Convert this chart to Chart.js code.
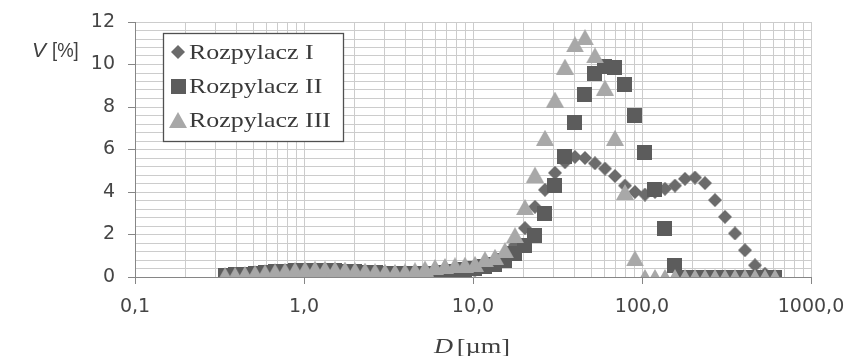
<!DOCTYPE html>
<html><head><meta charset="utf-8">
<script src="https://cdn.jsdelivr.net/npm/chart.js@4.4.1/dist/chart.umd.min.js"></script>
<style>html,body{margin:0;padding:0;background:#fff;} canvas{display:block;}</style>
</head><body>
<canvas id="c" width="845" height="356"></canvas>
<script>
// ---- data ----
const diameters = [0.341, 0.391, 0.447, 0.513, 0.588, 0.674, 0.772, 0.885, 1.014, 1.161,
  1.331, 1.525, 1.748, 2.003, 2.296, 2.631, 3.015, 3.455, 3.959, 4.536,
  5.199, 5.958, 6.827, 7.823, 8.966, 10.27, 11.77, 13.49, 15.46, 17.72,
  20.30, 23.27, 26.67, 30.56, 35.02, 40.13, 45.98, 52.70, 60.39, 69.20,
  79.30, 90.88, 104.1, 119.3, 136.8, 156.7, 179.6, 205.8, 235.9, 270.3,
  309.8, 355.0, 406.8, 466.2, 534.2, 612.2];
const rozpylaczI = [0.05, 0.08, 0.10, 0.13, 0.16, 0.19, 0.22, 0.24, 0.25, 0.25,
  0.24, 0.22, 0.19, 0.16, 0.13, 0.10, 0.08, 0.06, 0.05, 0.05,
  0.05, 0.06, 0.08, 0.12, 0.20, 0.32, 0.50, 0.70, 1.00, 1.50,
  2.30, 3.30, 4.10, 4.90, 5.40, 5.65, 5.60, 5.35, 5.10, 4.75,
  4.30, 4.00, 3.88, 4.00, 4.15, 4.30, 4.62, 4.68, 4.42, 3.62,
  2.83, 2.05, 1.26, 0.55, 0.15, 0.00];
const rozpylaczII = [0.05, 0.10, 0.14, 0.18, 0.22, 0.25, 0.28, 0.30, 0.32, 0.32,
  0.31, 0.30, 0.28, 0.25, 0.22, 0.20, 0.18, 0.16, 0.15, 0.15,
  0.16, 0.18, 0.22, 0.28, 0.35, 0.42, 0.50, 0.60, 0.80, 1.10,
  1.50, 1.95, 3.00, 4.30, 5.65, 7.25, 8.58, 9.60, 9.92, 9.84,
  9.05, 7.60, 5.85, 4.10, 2.30, 0.55, 0, 0, 0, 0,
  0, 0, 0, 0, 0, 0];
const rozpylaczIII = [0.08, 0.10, 0.14, 0.18, 0.22, 0.26, 0.30, 0.34, 0.37, 0.39,
  0.39, 0.37, 0.35, 0.32, 0.30, 0.27, 0.25, 0.24, 0.26, 0.32,
  0.40, 0.47, 0.52, 0.55, 0.58, 0.62, 0.84, 0.95, 1.26, 1.97,
  3.29, 4.82, 6.55, 8.35, 9.90, 10.95, 11.28, 10.43, 8.91, 6.55,
  4.00, 0.88, 0, 0, 0, 0, 0, 0, 0, 0,
  0, 0, 0, 0, 0, 0];
const seriesNames = ['Rozpylacz I', 'Rozpylacz II', 'Rozpylacz III'];
const xTickLabels = ['0,1', '1,0', '10,0', '100,0', '1000,0'];
const yTickLabels = ['0', '2', '4', '6', '8', '10', '12'];

// ---- marker images ----
function makeMarker(shape, color) {
  const c = document.createElement('canvas');
  let w, h;
  if (shape === 'diamond') { w = 14; h = 14; }
  else if (shape === 'square') { w = 15; h = 15; }
  else { w = 18; h = 16; }
  c.width = w; c.height = h;
  const g = c.getContext('2d');
  g.fillStyle = color;
  g.beginPath();
  if (shape === 'diamond') { g.moveTo(w/2, 0); g.lineTo(w, h/2); g.lineTo(w/2, h); g.lineTo(0, h/2); }
  else if (shape === 'square') { g.rect(0, 0, w, h); }
  else { g.moveTo(w/2, 0); g.lineTo(w, h); g.lineTo(0, h); }
  g.closePath(); g.fill();
  return c;
}
const markers = [
  makeMarker('diamond', '#6b6b6b'),
  makeMarker('square', '#5c5c5c'),
  makeMarker('triangle', '#a8a8a8')
];

function pts(arr) { return diameters.map((d, i) => ({x: d, y: arr[i]})); }
function isDecade(v) { const l = Math.log10(v); return Math.abs(l - Math.round(l)) < 1e-6; }
function isEven(v) { return Math.abs(v/2 - Math.round(v/2)) < 1e-6; }

const textPlugin = {
  id: 'textPlugin',
  afterDraw(chart) {
    const ctx = chart.ctx;
    ctx.save();
    // legend
    ctx.fillStyle = '#ffffff';
    ctx.fillRect(163, 33, 180, 108);
    ctx.strokeStyle = '#505050';
    ctx.lineWidth = 1.3;
    ctx.strokeRect(163.5, 33.5, 180, 108);
    const rowsY = [52, 86, 120];
    ctx.fillStyle = '#3a3a3a';
    ctx.font = '22px "Liberation Serif"';
    ctx.textBaseline = 'alphabetic';
    for (let i = 0; i < 3; i++) {
      const m = markers[i];
      ctx.drawImage(m, Math.round(178 - m.width/2), Math.round(rowsY[i] - m.height/2));
      ctx.save();
      ctx.translate(189, rowsY[i] + 7);
      ctx.scale(1.18, 1);
      ctx.fillText(seriesNames[i], 0, 0);
      ctx.restore();
    }
    // axis titles
    ctx.fillStyle = '#404040';
    ctx.font = 'italic 21px "Liberation Sans"';
    ctx.fillText('V', 32, 57);
    ctx.save();
    ctx.translate(52, 57);
    ctx.scale(0.88, 1);
    ctx.font = '21px "Liberation Sans"';
    ctx.fillText('[%]', 0, 0);
    ctx.restore();
    ctx.save();
    ctx.translate(434, 353);
    ctx.scale(1.2, 1);
    ctx.font = 'italic 22px "Liberation Serif"';
    ctx.fillText('D', 0, 0);
    ctx.font = '22px "Liberation Serif"';
    ctx.fillText('[\u00b5m]', 19, 0);
    ctx.restore();
    ctx.restore();
  }
};

new Chart(document.getElementById('c'), {
  type: 'scatter',
  data: {
    datasets: [
      {label: seriesNames[0], data: pts(rozpylaczI), pointStyle: markers[0], pointRadius: 7, order: 3},
      {label: seriesNames[1], data: pts(rozpylaczII), pointStyle: markers[1], pointRadius: 7, order: 2},
      {label: seriesNames[2], data: pts(rozpylaczIII), pointStyle: markers[2], pointRadius: 8, order: 1}
    ]
  },
  options: {
    responsive: false,
    animation: false,
    devicePixelRatio: 1,
    layout: {padding: {top: 22, right: 34, left: 0, bottom: 0}},
    plugins: {legend: {display: false}, tooltip: {enabled: false}},
    scales: {
      x: {
        type: 'logarithmic', min: 0.1, max: 1000, position: 'bottom',
        afterFit(s) { s.height = 79; s.paddingLeft = 0; s.paddingRight = 0; s.paddingTop = 0; s.paddingBottom = 0; },
        afterBuildTicks(s) {
          const t = [];
          for (let e = -1; e <= 2; e++) for (let m = 1; m <= 9; m++) t.push({value: parseFloat((m * Math.pow(10, e)).toPrecision(3))});
          t.push({value: 1000});
          s.ticks = t;
        },
        ticks: {
          autoSkip: false, maxRotation: 0, minRotation: 0, padding: 12,
          font: {family: 'DejaVu Sans', size: 19}, color: '#454545',
          callback(v) { return isDecade(v) ? xTickLabels[Math.round(Math.log10(v)) + 1] : ''; }
        },
        grid: {
          color: '#cccccc', lineWidth: 1, tickLength: 7,
          tickColor(c) { return c.tick && isDecade(c.tick.value) ? '#868686' : 'rgba(0,0,0,0)'; }
        },
        border: {color: '#868686', width: 1}
      },
      y: {
        min: 0, max: 12,
        afterFit(s) { s.width = 135; s.paddingLeft = 0; s.paddingRight = 0; s.paddingTop = 0; s.paddingBottom = 0; },
        ticks: {
          stepSize: 0.4, autoSkip: false, padding: 13,
          font: {family: 'DejaVu Sans', size: 19}, color: '#454545',
          callback(v) { return isEven(v) ? yTickLabels[Math.round(v / 2)] : ''; }
        },
        grid: {
          color: '#cccccc', lineWidth: 1, tickLength: 7,
          tickColor(c) { return c.tick && isEven(c.tick.value) ? '#868686' : 'rgba(0,0,0,0)'; }
        },
        border: {color: '#868686', width: 1}
      }
    }
  },
  plugins: [textPlugin]
});
</script>
</body></html>
